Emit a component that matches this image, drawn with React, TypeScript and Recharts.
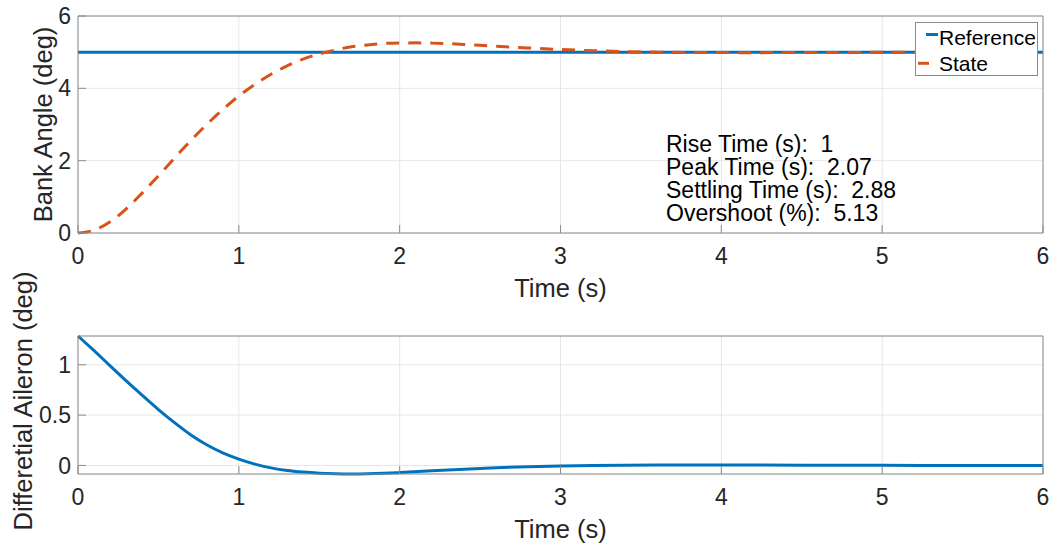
import { LineChart, Line, XAxis, YAxis, CartesianGrid, Legend, Label } from "recharts";

const FONT = '"Liberation Sans", Arial, Helvetica, sans-serif';
const INK = "#262626";
const BOX = "#8c8c8c";
const GRID = "#e6e6e6";
const BLUE = "#0072BD";
const ORANGE = "#D95319";

// axis ticks
const timeTicks = [0, 1, 2, 3, 4, 5, 6];
const bankTicks = [0, 2, 4, 6];
const aileronTicks = [0, 0.5, 1];

// reference command (deg)
const refTime = [0, 6];
const refBank = [5, 5];

// bank angle response (deg)
const stateTime = [
  0, 0.1, 0.2, 0.3, 0.4, 0.5, 0.6, 0.7, 0.8, 0.9, 1.0, 1.1, 1.2, 1.3, 1.4, 1.5,
  1.6, 1.7, 1.8, 1.9, 2.0, 2.1, 2.2, 2.3, 2.4, 2.5, 2.6, 2.7, 2.8, 2.9, 3.0,
  3.2, 3.4, 3.6, 3.8, 4.0, 4.2, 4.4, 4.6, 4.8, 5.0, 5.5, 6.0,
];
const stateBank = [
  0, 0.08, 0.31, 0.67, 1.11, 1.58, 2.07, 2.55, 3.0, 3.41, 3.79, 4.11, 4.39,
  4.62, 4.81, 4.95, 5.06, 5.15, 5.2, 5.24, 5.255, 5.257, 5.25, 5.235, 5.215,
  5.19, 5.165, 5.14, 5.116, 5.094, 5.074, 5.04, 5.016, 5.0, 4.992, 4.988,
  4.987, 4.988, 4.991, 4.993, 4.995, 4.999, 5.0,
];

// differential aileron command (deg)
const aileronTime = [
  0, 0.1, 0.2, 0.3, 0.4, 0.5, 0.6, 0.7, 0.8, 0.9, 1.0, 1.1, 1.2, 1.3, 1.4, 1.5,
  1.6, 1.7, 1.8, 1.9, 2.0, 2.2, 2.4, 2.6, 2.8, 3.0, 3.2, 3.4, 3.6, 3.8, 4.0,
  4.5, 5.0, 5.5, 6.0,
];
const aileronDeg = [
  1.286, 1.14, 0.99, 0.84, 0.695, 0.555, 0.425, 0.305, 0.205, 0.125, 0.063,
  0.013, -0.024, -0.05, -0.066, -0.077, -0.083, -0.085, -0.083, -0.078, -0.071,
  -0.053, -0.037, -0.023, -0.012, -0.005, 0.0, 0.003, 0.004, 0.004, 0.004,
  0.003, 0.001, 0.0, 0.0,
];

const stats = [
  "Rise Time (s):  1",
  "Peak Time (s):  2.07",
  "Settling Time (s):  2.88",
  "Overshoot (%):  5.13",
];

const refRows = refTime.map((t, i) => ({ t, ref: refBank[i] }));
const stateRows = stateTime.map((t, i) => ({ t, state: stateBank[i] }));
const aileronRows = aileronTime.map((t, i) => ({ t, u: aileronDeg[i] }));

const tickStyle = { fill: INK, fontSize: 23, fontFamily: FONT };

function XTitle({ viewBox, text }: any) {
  const vb = viewBox ?? { x: 78, y: 0, width: 965, height: 60 };
  const cx = vb.x + vb.width / 2;
  const cy = vb.y + 55;
  return (
    <text x={cx} y={cy} dy="0.358em" textAnchor="middle" fontSize={25.5} fill={INK} fontFamily={FONT}>
      {text}
    </text>
  );
}

function YTitle({ viewBox, text, cx, shift = 0 }: any) {
  const vb = viewBox ?? { x: 0, y: 0, width: 78, height: 200 };
  const x = vb.x + cx;
  const y = vb.y + vb.height / 2 + shift;
  return (
    <text
      x={x}
      y={y}
      dy="0.358em"
      textAnchor="middle"
      transform={`rotate(-90 ${x} ${y})`}
      fontSize={25.5}
      fill={INK}
      fontFamily={FONT}
    >
      {text}
    </text>
  );
}

function LegendBox() {
  return (
    <svg width={123} height={54} style={{ display: "block" }}>
      <rect x={0.5} y={0.5} width={122} height={53} fill="#fff" stroke={BOX} />
      <line x1={11} x2={23} y1={12.5} y2={12.5} stroke={BLUE} strokeWidth={3} />
      <text x={24} y={15} dy="0.358em" fontSize={21} fontFamily={FONT} fill="#000">
        Reference
      </text>
      <line x1={3} x2={14} y1={41.3} y2={41.3} stroke={ORANGE} strokeWidth={3} />
      <text x={24} y={41} dy="0.358em" fontSize={21} fontFamily={FONT} fill="#000">
        State
      </text>
    </svg>
  );
}

function BankAngleChart() {
  return (
    <LineChart width={1054} height={310} margin={{ top: 15, right: 10, bottom: 0, left: 0 }}>
      <CartesianGrid stroke={GRID} />
      <XAxis
        dataKey="t"
        type="number"
        domain={[0, 6]}
        ticks={timeTicks}
        interval={0}
        height={77}
        tickSize={-8}
        tickMargin={23}
        tick={tickStyle}
        axisLine={{ stroke: BOX }}
        tickLine={{ stroke: BOX }}
      >
        <Label content={(p: any) => <XTitle {...p} text="Time (s)" />} />
      </XAxis>
      <XAxis
        xAxisId="top"
        orientation="top"
        type="number"
        domain={[0, 6]}
        ticks={timeTicks}
        interval={0}
        height={1}
        tick={false}
        tickSize={-8}
        axisLine={{ stroke: BOX }}
        tickLine={{ stroke: BOX }}
      />
      <YAxis
        type="number"
        domain={[0, 6]}
        ticks={bankTicks}
        interval={0}
        width={78}
        tickSize={-8}
        tickMargin={15}
        tick={tickStyle}
        axisLine={{ stroke: BOX }}
        tickLine={{ stroke: BOX }}
      >
        <Label content={(p: any) => <YTitle {...p} text="Bank Angle (deg)" cx={42.5} />} />
      </YAxis>
      <YAxis
        yAxisId="right"
        orientation="right"
        type="number"
        domain={[0, 6]}
        ticks={bankTicks}
        interval={0}
        width={1}
        tick={false}
        tickSize={-8}
        axisLine={{ stroke: BOX }}
        tickLine={{ stroke: BOX }}
      />
      <Line
        data={refRows}
        dataKey="ref"
        name="Reference"
        stroke={BLUE}
        strokeWidth={3}
        dot={false}
        type="linear"
        isAnimationActive={false}
      />
      <Line
        data={stateRows}
        dataKey="state"
        name="State"
        stroke={ORANGE}
        strokeWidth={3}
        strokeDasharray="13 9"
        dot={false}
        type="monotone"
        isAnimationActive={false}
      />
      <Legend
        layout="vertical"
        align="center"
        verticalAlign="middle"
        wrapperStyle={{ left: 915, top: 22, width: 123, height: 54 }}
        content={() => <LegendBox />}
      />
    </LineChart>
  );
}

function AileronChart() {
  return (
    <LineChart
      width={1054}
      height={304}
      data={aileronRows}
      margin={{ top: 95, right: 10, bottom: 0, left: 0 }}
    >
      <CartesianGrid stroke={GRID} />
      <XAxis
        dataKey="t"
        type="number"
        domain={[0, 6]}
        ticks={timeTicks}
        interval={0}
        height={70}
        tickSize={-8}
        tickMargin={23}
        tick={tickStyle}
        axisLine={{ stroke: BOX }}
        tickLine={{ stroke: BOX }}
      >
        <Label content={(p: any) => <XTitle {...p} text="Time (s)" />} />
      </XAxis>
      <XAxis
        xAxisId="top"
        orientation="top"
        type="number"
        domain={[0, 6]}
        ticks={timeTicks}
        interval={0}
        height={1}
        tick={false}
        tickSize={-8}
        axisLine={{ stroke: BOX }}
        tickLine={{ stroke: BOX }}
      />
      <YAxis
        type="number"
        domain={[-0.085, 1.286]}
        ticks={aileronTicks}
        interval={0}
        width={78}
        tickSize={-8}
        tickMargin={15}
        tick={tickStyle}
        axisLine={{ stroke: BOX }}
        tickLine={{ stroke: BOX }}
      >
        <Label
          content={(p: any) => (
            <YTitle {...p} text="Differetial Aileron (deg)" cx={23} shift={-4} />
          )}
        />
      </YAxis>
      <YAxis
        yAxisId="right"
        orientation="right"
        type="number"
        domain={[-0.085, 1.286]}
        ticks={aileronTicks}
        interval={0}
        width={1}
        tick={false}
        tickSize={-8}
        axisLine={{ stroke: BOX }}
        tickLine={{ stroke: BOX }}
      />
      <Line
        dataKey="u"
        stroke={BLUE}
        strokeWidth={3}
        dot={false}
        type="monotone"
        isAnimationActive={false}
      />
    </LineChart>
  );
}

export default function App() {
  return (
    <div
      style={{
        position: "absolute",
        left: 0,
        top: 0,
        width: 1054,
        height: 544,
        background: "#fff",
        fontFamily: FONT,
        overflow: "hidden",
      }}
    >
      <div style={{ position: "absolute", left: 0, top: 0 }}>
        <BankAngleChart />
      </div>
      <svg
        width={1054}
        height={300}
        style={{ position: "absolute", left: 0, top: 0, pointerEvents: "none" }}
      >
        {stats.map((line, i) => (
          <text
            key={line}
            x={666}
            y={152 + i * 23}
            fontSize={23}
            fontFamily={FONT}
            fill="#000"
            style={{ whiteSpace: "pre" }}
          >
            {line}
          </text>
        ))}
      </svg>
      <div style={{ position: "absolute", left: 0, top: 240 }}>
        <AileronChart />
      </div>
    </div>
  );
}
